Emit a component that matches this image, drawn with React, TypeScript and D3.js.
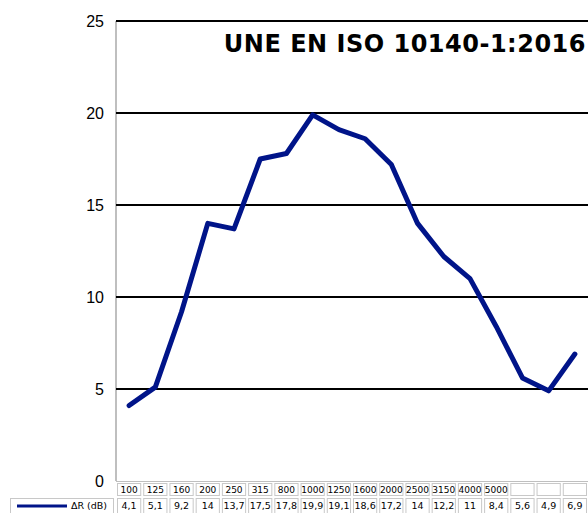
import * as d3 from "d3";

// frecuencias (Hz) del encabezado de la tabla, las tres últimas vacías
const categories = ["100", "125", "160", "200", "250", "315", "800", "1000", "1250", "1600", "2000", "2500", "3150", "4000", "5000", "", "", ""];
// ΔR (dB)
const deltaR = [4.1, 5.1, 9.2, 14, 13.7, 17.5, 17.8, 19.9, 19.1, 18.6, 17.2, 14, 12.2, 11, 8.4, 5.6, 4.9, 6.9];
const yTicks = [0, 5, 10, 15, 20, 25];
const seriesName = "ΔR (dB)";
const title = "UNE EN ISO 10140-1:2016";

const W = 588;
const H = 513;
const left = 116;
const right = 588;
const top = 21;
const bottom = 481;

const App = () => {
  const idx = categories.map((_, i) => String(i));
  const x = d3.scaleBand().domain(idx).range([left, right]).padding(0);
  const y = d3.scaleLinear().domain([0, 25]).range([bottom, top]);

  const line = d3
    .line<number>()
    .x((_, i) => (x(String(i)) as number) + x.bandwidth() / 2)
    .y((d) => y(d));

  const tableFont = "'DejaVu Sans', sans-serif";
  const headTop = 482;
  const headH = 14;
  const rowTop = 497;
  const rowH = 18;

  return (
    <svg
      width={W}
      height={H}
      style={{ position: "absolute", left: 0, top: 0, background: "#fff" }}
    >
      {/* eje vertical */}
      <line x1={left} x2={left} y1={top} y2={bottom} stroke="#bfbfbf" strokeWidth={2} />
      {/* rejilla */}
      {yTicks
        .filter((t) => t > 0)
        .map((t) => (
          <line key={t} x1={left} x2={right} y1={y(t)} y2={y(t)} stroke="#000" strokeWidth={2} />
        ))}
      {yTicks.map((t) => (
        <text
          key={"l" + t}
          x={104}
          y={y(t)}
          dy="0.35em"
          textAnchor="end"
          fontFamily="'Liberation Sans', sans-serif"
          fontSize={16}
          fill="#000"
        >
          {t}
        </text>
      ))}

      <path
        d={line(deltaR) as string}
        fill="none"
        stroke="#001489"
        strokeWidth={5}
        strokeLinejoin="round"
        strokeLinecap="round"
      />

      <text
        x={586}
        y={52}
        textAnchor="end"
        fontFamily="'DejaVu Sans', sans-serif"
        fontWeight="bold"
        fontSize={24}
        letterSpacing={0.5}
        fill="#000"
      >
        {title}
      </text>

      {/* tabla de datos */}
      <line x1={left} x2={right} y1={headTop - 0.5} y2={headTop - 0.5} stroke="#bfbfbf" />
      {categories.map((c, i) => {
        const x0 = x(String(i)) as number;
        const bw = x.bandwidth();
        return (
          <g key={"c" + i}>
            <rect x={x0 + 1.5} y={headTop + 1.5} width={bw - 3} height={headH - 2} fill="none" stroke="#c8c8c8" />
            <text
              x={x0 + bw / 2}
              y={headTop + headH / 2 + 1}
              dy="0.35em"
              textAnchor="middle"
              fontFamily={tableFont}
              fontSize={9}
              fill="#000"
            >
              {c}
            </text>
            <rect x={x0 + 1.5} y={rowTop + 1.5} width={bw - 3} height={rowH} fill="none" stroke="#c8c8c8" />
            <text
              x={x0 + bw / 2}
              y={rowTop + 9}
              dy="0.35em"
              textAnchor="middle"
              fontFamily={tableFont}
              fontSize={9.5}
              fill="#000"
            >
              {String(deltaR[i]).replace(".", ",")}
            </text>
          </g>
        );
      })}
      <rect x={10.5} y={rowTop + 1.5} width={left - 13} height={rowH} fill="none" stroke="#c8c8c8" />
      <line x1={17} x2={67} y1={rowTop + 9} y2={rowTop + 9} stroke="#001489" strokeWidth={3} />
      <text
        x={107}
        y={rowTop + 9}
        dy="0.35em"
        textAnchor="end"
        fontFamily={tableFont}
        fontSize={9.5}
        fill="#000"
      >
        {seriesName}
      </text>
    </svg>
  );
};

export default App;
